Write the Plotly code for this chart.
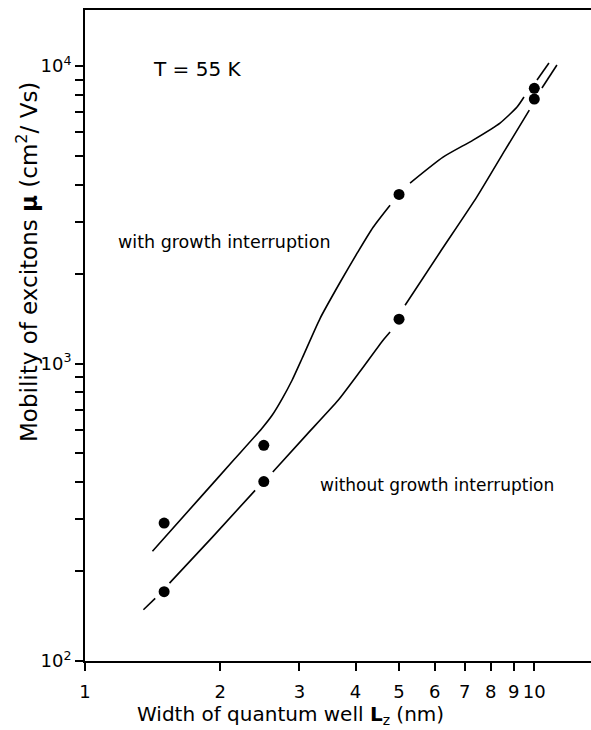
import plotly.graph_objects as go

# ---- data ----
well_width = [1.5, 2.5, 5, 10]
mu_with = [291, 531, 3704, 8420]
mu_without = [171, 401, 1410, 7750]

# hand-drawn guide curves (None = gap in the drawn line)
curve_with_x = [1.413, 1.813, 2.140, 2.475, 2.609, 2.746, 2.890, 3.043, 3.337, 3.697, 4.033,
                4.378, 4.775, None, 5.290, 6.265, 7.306, 8.388, 9.154, 9.486, None, 10.14, 10.78]
curve_with_y = [234, 357, 473, 605, 670, 761, 879, 1042, 1420, 1877, 2350,
                2874, 3409, None, 4045, 4945, 5641, 6436, 7285, 7872, None, 8982, 10245]
curve_without_x = [1.349, 1.433, None, 1.542, 1.919, 2.391, None, 2.618, 3.090, 3.659, 4.096,
                   4.607, 4.775, None, 5.157, 6.168, 7.445, 8.606, 9.747, None, 10.40, 11.23]
curve_without_y = [148.7, 162.3, None, 182.7, 260.5, 374.7, None, 431.9, 569.3, 752.4, 942.1,
                   1198, 1277, None, 1571, 2368, 3627, 5220, 7117, None, 8440, 10092]

x_ticks = [1, 2, 3, 4, 5, 6, 7, 8, 9, 10]
x_tick_labels = ["1", "2", "3", "4", "5", "6", "7", "8", "9", "10"]
y_ticks = [100, 200, 300, 400, 500, 600, 700, 800, 900,
           1000, 2000, 3000, 4000, 5000, 6000, 7000, 8000, 9000, 10000]
y_tick_labels = ["10<sup>2</sup>"] + [""] * 8 + ["10<sup>3</sup>"] + [""] * 8 + ["10<sup>4</sup>"]

FONT = "DejaVu Sans"

# plot area in pixels (for placing free text)
L, R, T, B = 85, 591, 10, 661


def px(x):
    return (x - L) / (R - L)


def py(y):
    return (B - y) / (B - T)


fig = go.Figure()
fig.add_trace(go.Scatter(x=curve_with_x, y=curve_with_y, mode="lines",
                         line=dict(color="black", width=1.6, shape="spline", smoothing=0.6),
                         connectgaps=False, hoverinfo="skip", showlegend=False))
fig.add_trace(go.Scatter(x=curve_without_x, y=curve_without_y, mode="lines",
                         line=dict(color="black", width=1.6, shape="spline", smoothing=0.5),
                         connectgaps=False, hoverinfo="skip", showlegend=False))
fig.add_trace(go.Scatter(x=well_width, y=mu_with, mode="markers",
                         marker=dict(color="black", size=11), showlegend=False))
fig.add_trace(go.Scatter(x=well_width, y=mu_without, mode="markers",
                         marker=dict(color="black", size=11), showlegend=False))

fig.add_annotation(x=px(197), y=py(69), xref="paper", yref="paper", text="T = 55 K",
                   showarrow=False, font=dict(family=FONT, size=20, color="black"),
                   xanchor="center", yanchor="middle")
fig.add_annotation(x=px(116), y=py(242), xref="paper", yref="paper", text="with growth interruption",
                   showarrow=False, font=dict(family=FONT, size=17.5, color="black"),
                   xanchor="left", yanchor="middle")
fig.add_annotation(x=px(318), y=py(485), xref="paper", yref="paper", text="without growth interruption",
                   showarrow=False, font=dict(family=FONT, size=17, color="black"),
                   xanchor="left", yanchor="middle")
# axis titles
fig.add_annotation(x=px(290), y=py(715), xref="paper", yref="paper",
                   text="Width of quantum well <b>L</b><sub>z</sub> (nm)",
                   showarrow=False, font=dict(family=FONT, size=20, color="black"),
                   xanchor="center", yanchor="middle")
fig.add_annotation(x=px(27), y=py(262), xref="paper", yref="paper",
                   text="Mobility of excitons <b>μ</b> (cm<sup>2</sup>/ Vs)", textangle=-90,
                   showarrow=False, font=dict(family=FONT, size=23, color="black"),
                   xanchor="center", yanchor="middle")

fig.update_layout(
    width=591, height=730,
    margin=dict(l=L, r=591 - R, t=T, b=730 - B),
    paper_bgcolor="white", plot_bgcolor="white",
    font=dict(family=FONT, color="black"),
)
fig.update_xaxes(type="log", range=[0, 1.1262], tickvals=x_ticks, ticktext=x_tick_labels,
                 ticks="outside", ticklen=8, tickwidth=1.5, tickcolor="black",
                 ticklabelstandoff=5,
                 showline=True, linecolor="black", linewidth=2, mirror=True,
                 showgrid=False, zeroline=False, tickfont=dict(size=18, family=FONT))
fig.update_yaxes(type="log", range=[2, 4.1888], tickvals=y_ticks, ticktext=y_tick_labels,
                 ticks="outside", ticklen=8, tickwidth=1.5, tickcolor="black",
                 showline=True, linecolor="black", linewidth=2, mirror=False,
                 showgrid=False, zeroline=False, tickfont=dict(size=18, family=FONT))

fig.write_html("out.html")
